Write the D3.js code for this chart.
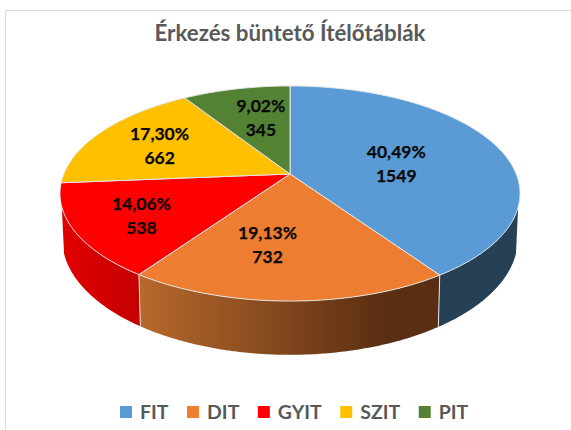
<!DOCTYPE html>
<html><head><meta charset="utf-8">
<script src="https://cdn.jsdelivr.net/npm/d3@7"></script>
<style>html,body{margin:0;padding:0;background:#fff}svg{display:block}text{font-family:Lato,"Open Sans",sans-serif;font-weight:700}</style>
</head><body><svg id="c" width="571" height="430"></svg>
<script>
const title = "Érkezés büntető Ítélőtáblák";
const categories = ["FIT","DIT","GYIT","SZIT","PIT"];
const values = [1549,732,538,662,345];
const percents = ["40,49%","19,13%","14,06%","17,30%","9,02%"];
const colors = ["#5B9BD5","#ED7D31","#FF0000","#FFC000","#548235"];
const rimStart = ["#264056","#B8692C","#E20000","#FFC000","#548235"];
const rimEnd = ["#264056","#5A2E12","#C40000","#FFC000","#548235"];
const labelNudge = [[1,5],[-22,14],[-46,15],[-33,-6],[0,-10]];

const svg = d3.select("#c");
const W = 571, H = 430;
// frame
svg.append("path").attr("d",`M5.5 ${H}V10.5H${W}`).attr("fill","none").attr("stroke","#D9D9D9").attr("stroke-width",1);

const persp = 0.1814;
const top3d = {cx:290, cy:174, a:104, b:226.2};
const low3d = {cx:290, cy:218, a:112, b:224};
const project = (g,t,r=1)=>{
  const w = 1+persp*r*Math.cos(t);
  return [g.cx+g.b*r*Math.sin(t)/w, g.cy-g.a*r*Math.cos(t)/w];
};
const arcPts = (g,t0,t1)=>{
  const n = Math.max(2,Math.ceil((t1-t0)/0.01));
  return d3.range(n+1).map(i=>project(g,t0+(t1-t0)*i/n));
};
const line = d3.line();
const pie = d3.pie().sort(null).startAngle(0).endAngle(2*Math.PI);
const slices = pie(values);

const tanA = 107.5*Math.PI/180, tanB = 252.5*Math.PI/180;
const defs = svg.append("defs");
const edge = "#E6E6E6";

// rim
slices.forEach((s,i)=>{
  const t0 = Math.max(s.startAngle,tanA), t1 = Math.min(s.endAngle,tanB);
  if(t1<=t0) return;
  const up = arcPts(top3d,t0,t1), lo = arcPts(low3d,t0,t1).reverse();
  const xs = up.concat(lo).map(d=>d[0]);
  const grad = defs.append("linearGradient").attr("id","rim"+i).attr("gradientUnits","userSpaceOnUse")
    .attr("x1",d3.min(xs)).attr("x2",d3.max(xs)).attr("y1",0).attr("y2",0);
  grad.append("stop").attr("offset",0).attr("stop-color",rimStart[i]);
  grad.append("stop").attr("offset",i===1?0.82:1).attr("stop-color",rimEnd[i]);
  svg.append("path").attr("d",line(up.concat(lo))+"Z").attr("fill",`url(#rim${i})`)
    .attr("stroke","none");
  // dividing edges
  if(s.startAngle>tanA && s.startAngle<tanB)
    svg.append("path").attr("d",line([project(top3d,s.startAngle),project(low3d,s.startAngle)])).attr("stroke",edge).attr("stroke-width",1).attr("fill","none");
});

// top face
slices.forEach((s,i)=>{
  const pts = [project(top3d,0,0)].concat(arcPts(top3d,s.startAngle,s.endAngle));
  svg.append("path").attr("d",line(pts)+"Z").attr("fill",colors[i])
    .attr("stroke",edge).attr("stroke-width",1).attr("stroke-linejoin","round");
});

// labels
slices.forEach((s,i)=>{
  const p = project(top3d,(s.startAngle+s.endAngle)/2,0.5);
  const x = p[0]+labelNudge[i][0], y = p[1]+labelNudge[i][1];
  const g = svg.append("g").attr("text-anchor","middle").attr("font-size",17.5).attr("fill","#0a0a0a")
    .attr("stroke","#0a0a0a").attr("stroke-width",0.25);
  g.append("text").attr("x",x).attr("y",y-12).attr("dy","0.35em").text(percents[i]);
  g.append("text").attr("x",x).attr("y",y+12).attr("dy","0.35em").text(values[i]);
});

// title
svg.append("text").attr("x",290).attr("y",40.5).attr("text-anchor","middle").attr("font-size",22.3).attr("fill","#595959").text(title);

// legend
let lx = 120;
categories.forEach((c,i)=>{
  svg.append("rect").attr("x",lx).attr("y",406).attr("width",12).attr("height",12).attr("fill",colors[i]);
  const t = svg.append("text").attr("x",lx+20).attr("y",412).attr("dy","0.35em").attr("font-size",19.5).attr("fill","#595959").text(c);
  lx += 20+t.node().getComputedTextLength()+18.5;
});
</script></body></html>
